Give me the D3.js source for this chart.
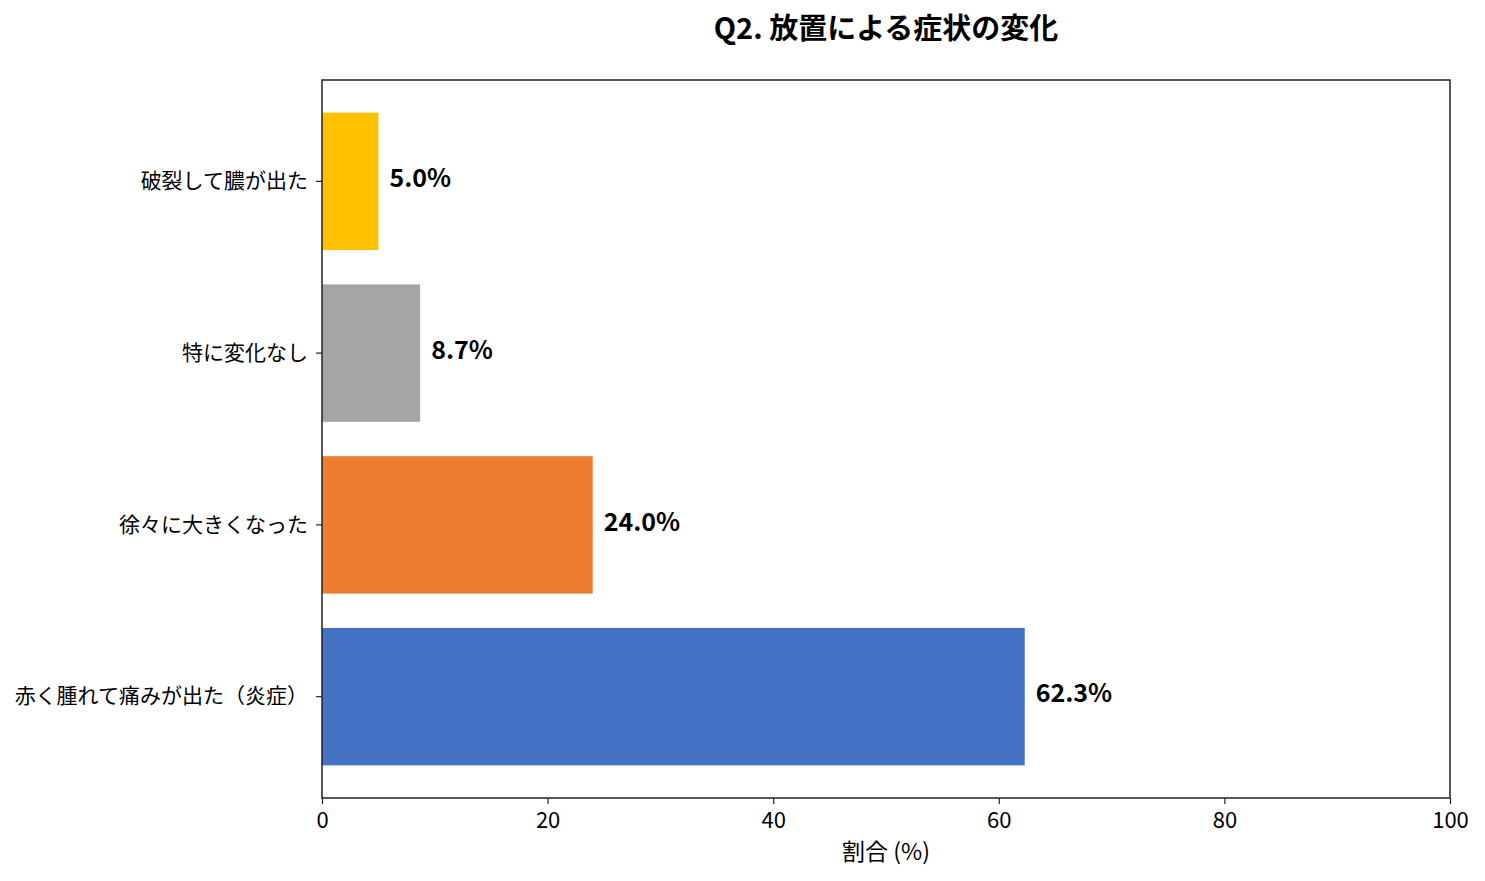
<!DOCTYPE html>
<html>
<head>
<meta charset="utf-8">
<script src="https://cdn.jsdelivr.net/npm/d3@7"></script>
<style>
  body { margin: 0; background: #fff; }
  svg text { font-family: "Noto Sans CJK JP", "Noto Sans", sans-serif; fill: #000; }
</style>
</head>
<body>
<div id="chart"></div>
<script>
// datos del grafico
var categorias = ["赤く腫れて痛みが出た（炎症）", "徐々に大きくなった", "特に変化なし", "破裂して膿が出た"];
var valores = [62.3, 24.0, 8.7, 5.0];
var colores = ["#4472C4", "#ED7D31", "#A5A5A5", "#FFC000"];
var ticksX = [0, 20, 40, 60, 80, 100];

var width = 1485, height = 881,
    margin = {left: 322, right: 35, top: 80, bottom: 83};

var svg = d3.select("#chart").append("svg")
    .attr("width", width).attr("height", height);

var chart = svg.append("g")
    .attr("transform", "translate(" + margin.left + "," + margin.top + ")");

var w = width - margin.left - margin.right,
    h = height - margin.top - margin.bottom;

var x = d3.scaleLinear().domain([0, 100]).range([0, w]);
// el primero va abajo
var y = d3.scaleBand().domain(categorias.slice().reverse())
    .range([0, h]).paddingInner(0.2).paddingOuter(0.19);

var datos = categorias.map(function (c, i) { return {cat: c, val: valores[i], color: colores[i]}; });

chart.selectAll("rect.bar").data(datos).enter()
  .append("rect").attr("class", "bar")
  .attr("x", x(0))
  .attr("y", function (d) { return y(d.cat); })
  .attr("height", y.bandwidth())
  .attr("width", function (d) { return x(d.val) - x(0); })
  .style("fill", function (d) { return d.color; });

chart.selectAll("text.val").data(datos).enter()
  .append("text").attr("class", "val")
  .attr("x", function (d) { return x(d.val) + 11; })
  .attr("y", function (d) { return y(d.cat) + y.bandwidth() / 2 - 1; })
  .attr("dominant-baseline", "middle")
  .style("font-size", "25px").style("font-weight", "bold")
  .text(function (d) { return d.val.toFixed(1) + "%"; });

// ejes
var xAxis = chart.append("g").attr("transform", "translate(0," + h + ")")
  .call(d3.axisBottom(x).tickValues(ticksX).tickSize(6).tickPadding(8));
var yAxis = chart.append("g")
  .call(d3.axisLeft(y).tickSize(6).tickPadding(8));

xAxis.selectAll("text").style("font-size", "22px");
yAxis.selectAll("text").style("font-size", "21px");
chart.selectAll(".domain").remove();
chart.selectAll(".tick line").attr("stroke", "#222").attr("stroke-width", 1.2);

chart.append("rect")
  .attr("x", 0).attr("y", 0).attr("width", w).attr("height", h)
  .attr("fill", "none").attr("stroke", "#222").attr("stroke-width", 1.5);

svg.append("text")
  .attr("x", margin.left + w / 2).attr("y", 39)
  .attr("text-anchor", "middle")
  .style("font-size", "29px").style("font-weight", "bold")
  .text("Q2. 放置による症状の変化");

svg.append("text")
  .attr("x", margin.left + w / 2).attr("y", 860)
  .attr("text-anchor", "middle")
  .style("font-size", "23px")
  .text("割合 (%)");
</script>
</body>
</html>
